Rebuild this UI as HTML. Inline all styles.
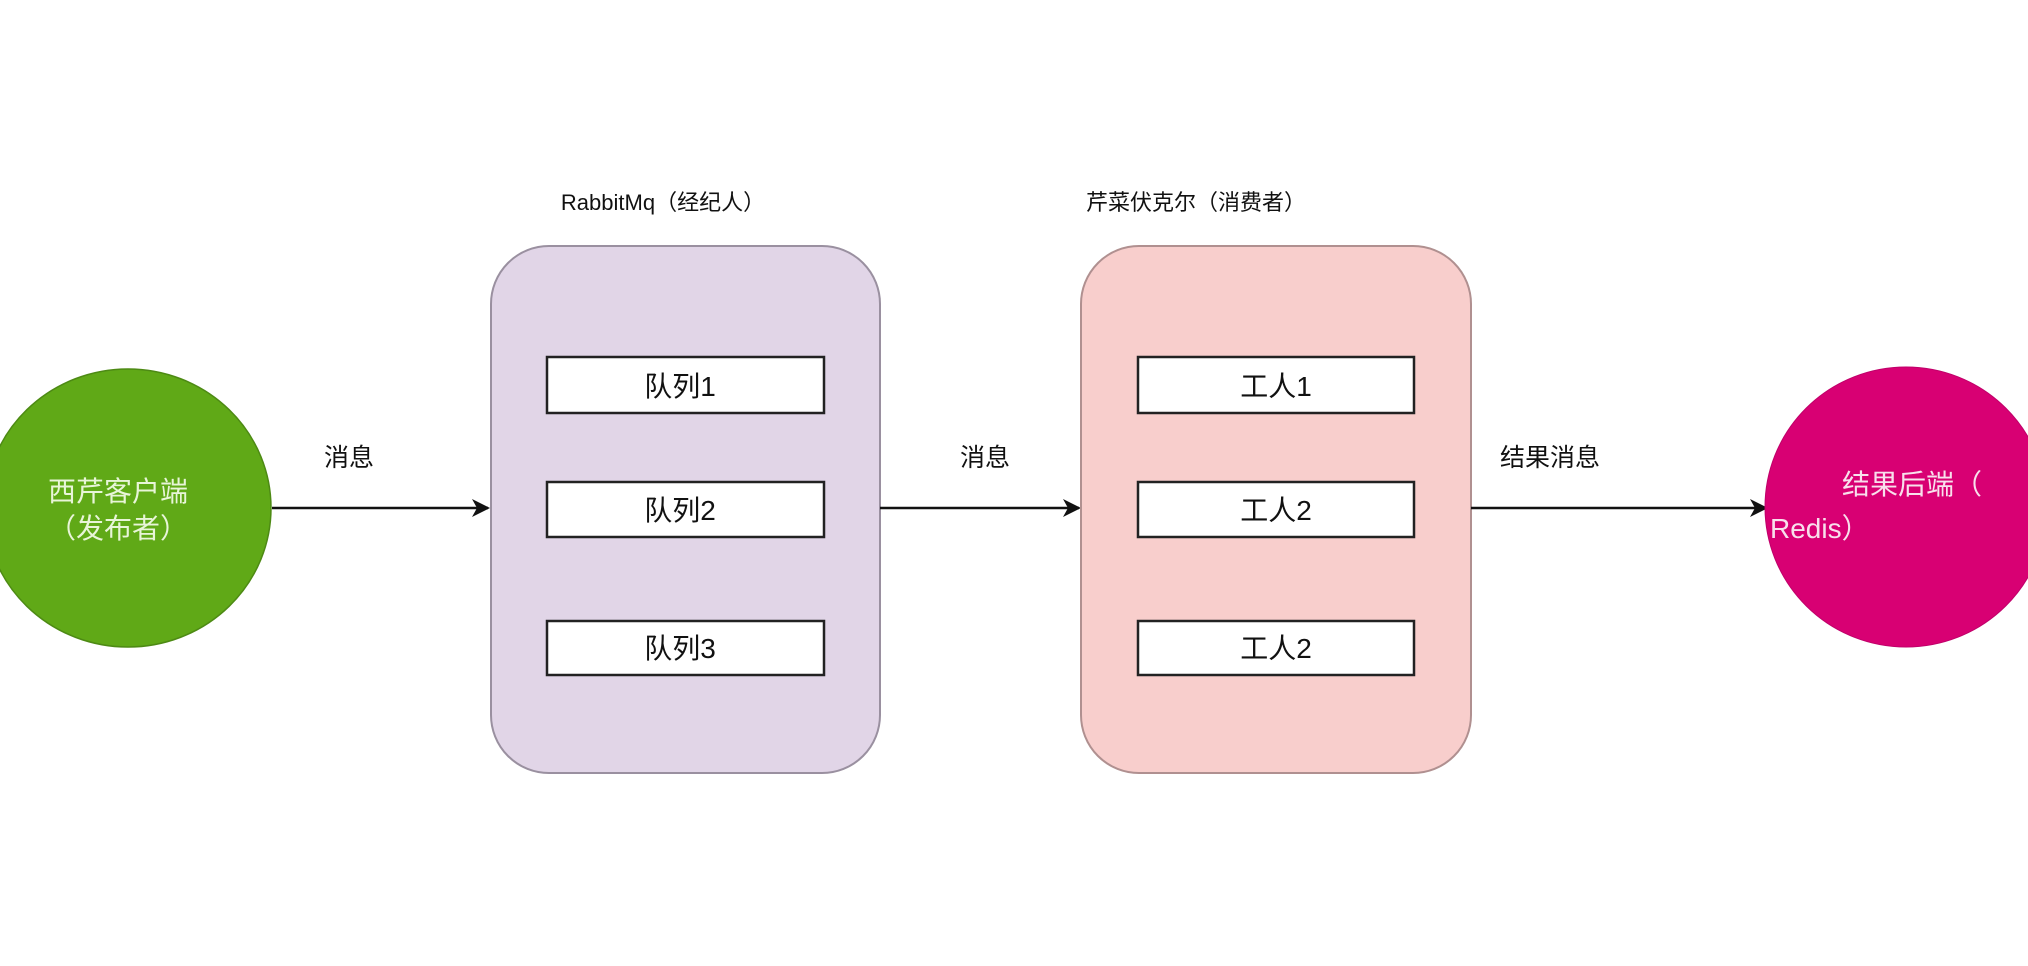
<!DOCTYPE html>
<html><head><meta charset="utf-8"><style>
html,body{margin:0;padding:0;background:#fff;}
body{width:2028px;height:966px;overflow:hidden;position:relative;font-family:"Liberation Sans","Noto Sans CJK SC",sans-serif;}
</style></head><body>
<svg width="2028" height="966" viewBox="0 0 2028 966" xmlns="http://www.w3.org/2000/svg" style="position:absolute;left:0;top:0">
<defs><marker id="a" markerWidth="18" markerHeight="18" refX="16" refY="9" orient="auto" markerUnits="userSpaceOnUse"><path d="M0,0 L18,9 L0,18 L5,9 Z" fill="#111"/></marker></defs>
<g font-family="Liberation Sans, Noto Sans CJK SC, sans-serif">
<ellipse cx="128" cy="508" rx="143" ry="139" fill="#60a917" stroke="#4d8a14" stroke-width="1.5"/>
<text x="118" y="501" font-size="28" fill="#e8f5d8" text-anchor="middle">西芹客户端</text>
<text x="118" y="538" font-size="28" fill="#e8f5d8" text-anchor="middle">（发布者）</text>
<line x1="272" y1="508" x2="488" y2="508" stroke="#111" stroke-width="2.5" marker-end="url(#a)"/>
<text x="349" y="466" font-size="25" fill="#111" text-anchor="middle">消息</text>
<rect x="491" y="246" width="389" height="527" rx="58" fill="#e1d5e7" stroke="#9a90a0" stroke-width="2"/>
<text x="663" y="210" font-size="22" fill="#111" text-anchor="middle">RabbitMq（经纪人）</text>
<line x1="880" y1="508" x2="1079" y2="508" stroke="#111" stroke-width="2.5" marker-end="url(#a)"/>
<text x="985" y="466" font-size="25" fill="#111" text-anchor="middle">消息</text>
<rect x="1081" y="246" width="390" height="527" rx="58" fill="#f8cecc" stroke="#b09090" stroke-width="2"/>
<text x="1196" y="210" font-size="22" fill="#111" text-anchor="middle">芹菜伏克尔（消费者）</text>
<g fill="#fff" stroke="#222" stroke-width="2.5">
<rect x="547" y="357" width="277" height="56"/><rect x="547" y="482" width="277" height="55"/><rect x="547" y="621" width="277" height="54"/>
<rect x="1138" y="357" width="276" height="56"/><rect x="1138" y="482" width="276" height="55"/><rect x="1138" y="621" width="276" height="54"/>
</g>
<g font-size="28" fill="#111" text-anchor="middle">
<text x="680" y="396">队列1</text><text x="680" y="520">队列2</text><text x="680" y="658">队列3</text>
<text x="1276" y="396">工人1</text><text x="1276" y="520">工人2</text><text x="1276" y="658">工人2</text>
</g>
<line x1="1471" y1="508" x2="1766" y2="508" stroke="#111" stroke-width="2.5" marker-end="url(#a)"/>
<text x="1550" y="466" font-size="25" fill="#111" text-anchor="middle">结果消息</text>
<ellipse cx="1906" cy="507" rx="141" ry="140" fill="#d80073" stroke="#c0006a" stroke-width="1"/>
<text x="1912" y="494" font-size="28" fill="#f8e0ec" text-anchor="middle">结果后端（</text>
<text x="1770" y="538" font-size="28" fill="#f8e0ec">Redis）</text>
</g>
</svg>
</body></html>
